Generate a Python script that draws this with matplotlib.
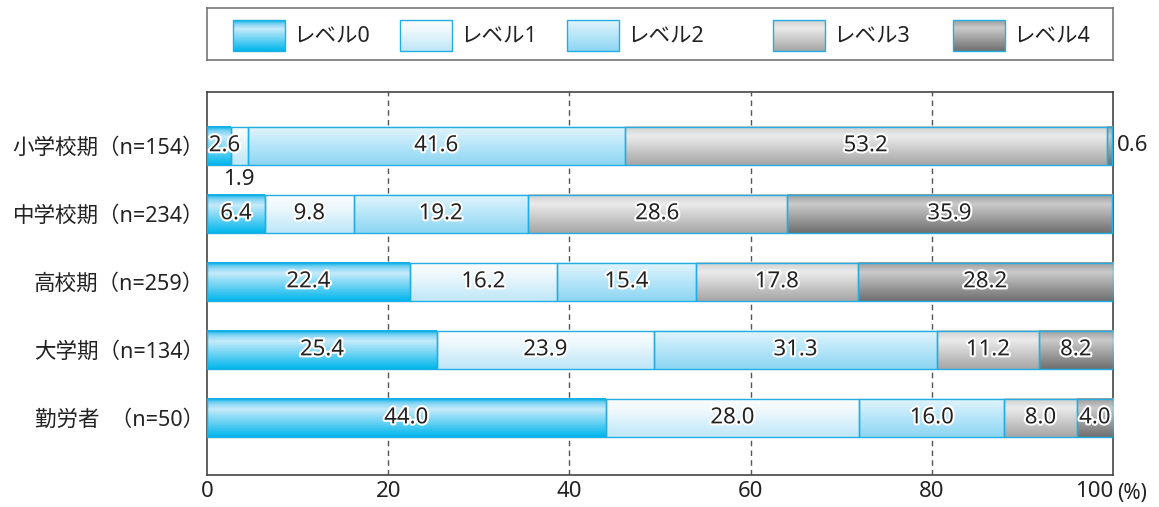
import matplotlib
matplotlib.use('Agg')
import matplotlib.pyplot as plt
import matplotlib.patheffects as pe
import numpy as np

plt.rcParams['font.family'] = ['Noto Sans', 'Noto Sans CJK JP', 'DejaVu Sans']

categories = ['小学校期（n=154）', '中学校期（n=234）', '高校期（n=259）',
              '大学期（n=134）', '勤労者  （n=50）']
levels = ['レベル0', 'レベル1', 'レベル2', 'レベル3', 'レベル4']
values = [
    [2.6, 1.9, 41.6, 53.2, 0.6],
    [6.4, 9.8, 19.2, 28.6, 35.9],
    [22.4, 16.2, 15.4, 17.8, 28.2],
    [25.4, 23.9, 31.3, 11.2, 8.2],
    [44.0, 28.0, 16.0, 8.0, 4.0],
]
xticks = [0, 20, 40, 60, 80, 100]

# vertical gradient stops for each level (position from top, colour)
gradients = [
    [(0.0, '#00b2e8'), (0.12, '#7fd3f3'), (0.28, '#c6ebfa'), (1.0, '#00b6ec')],
    [(0.0, '#fbfdfe'), (0.3, '#f0f9fd'), (1.0, '#bfe7f8')],
    [(0.0, '#e3f5fc'), (0.3, '#c8ecfa'), (1.0, '#8dd6f3')],
    [(0.0, '#cfcfcf'), (0.25, '#ebebeb'), (1.0, '#a6a6a6')],
    [(0.0, '#9b9b9b'), (0.25, '#cbcbcb'), (1.0, '#6f6f6f')],
]
edge = '#22aee2'
tcol = '#222222'


def make_grad(stops, n=64):
    pos = np.linspace(0, 1, n)
    sp = [s[0] for s in stops]
    cols = np.array([matplotlib.colors.to_rgb(s[1]) for s in stops])
    img = np.zeros((n, 1, 3))
    for c in range(3):
        img[:, 0, c] = np.interp(pos, sp, cols[:, c])
    return img


fig = plt.figure(figsize=(11.59, 5.07), dpi=100)
W, H = 1159, 507
ax = fig.add_axes([207 / W, 1 - 475 / H, 906 / W, 383 / H])

bar_h = 0.56
ypos = np.arange(len(categories))
vals = np.array(values)
lefts = np.zeros(len(categories))
for j in range(len(levels)):
    bars = ax.barh(ypos, vals[:, j], left=lefts, height=bar_h,
                   facecolor='none', edgecolor=edge, linewidth=1.0, zorder=4)
    img = make_grad(gradients[j])
    for b in bars:
        x0, y0 = b.get_x(), b.get_y()
        ax.imshow(img, extent=(x0, x0 + b.get_width(), y0 + bar_h, y0),
                  aspect='auto', origin='upper', zorder=3, interpolation='bilinear')
    # labels
    for i, b in enumerate(bars):
        v = vals[i, j]
        cx = lefts[i] + v / 2
        txt = f'{v:.1f}'
        if i == 0 and j == 1:
            ax.text(cx, i + 0.5, txt, ha='center', va='center', fontsize=16,
                    color=tcol, zorder=6)
        elif i == 0 and j == 4:
            ax.text(100.4, i, txt, ha='left', va='center', fontsize=16,
                    color=tcol, zorder=6, clip_on=False)
        else:
            ha = 'center'
            if i == 0 and j == 0:
                cx, ha = 0.2, 'left'
            t = ax.text(cx, i, txt, ha=ha, va='center', fontsize=16,
                        color=tcol, zorder=6)
            t.set_path_effects([pe.withStroke(linewidth=3, foreground='white')])
    lefts = lefts + vals[:, j]

ax.set_xlim(0, 100)
ax.set_ylim(4.84, -0.79)
for x in xticks[1:-1]:
    ax.axvline(x, color='#555555', linestyle=(0, (4, 3)), linewidth=1.0, zorder=1)

ax.set_xticks(xticks)
ax.set_xticklabels([str(t) for t in xticks], fontsize=16, color=tcol)
ax.get_xticklabels()[-1].set_horizontalalignment('right')
ax.set_yticks(ypos)
ax.set_yticklabels(categories, fontsize=15.5, color=tcol)
ax.tick_params(length=0, pad=4)
ax.tick_params(axis='y', pad=2)
for s in ax.spines.values():
    s.set_color('#444444')
    s.set_linewidth(1.2)
ax.text(1.005, -0.021, '(%)', transform=ax.transAxes, ha='left', va='top',
        fontsize=15, color=tcol)

# legend drawn in its own axes (pixel coordinates)
lax = fig.add_axes([207 / W, 1 - 60 / H, 906 / W, 52 / H])
lax.set_xticks([])
lax.set_yticks([])
for s in lax.spines.values():
    s.set_color('#777777')
    s.set_linewidth(1.2)
leg_x = [233, 400, 567, 773, 953]
for j, name in enumerate(levels):
    x0 = leg_x[j]
    lax.imshow(make_grad(gradients[j]), extent=(x0, x0 + 52, 51, 20),
               aspect='auto', origin='upper', zorder=2, interpolation='bilinear')
    lax.add_patch(plt.Rectangle((x0, 20), 52, 31, facecolor='none',
                                edgecolor=edge, linewidth=1.0, zorder=3))
    lax.text(x0 + 60, 35.5, name, ha='left', va='center', fontsize=15.5,
             color=tcol)
lax.set_xlim(207, 1113)
lax.set_ylim(60, 8)

fig.savefig('out.png', dpi=100)
